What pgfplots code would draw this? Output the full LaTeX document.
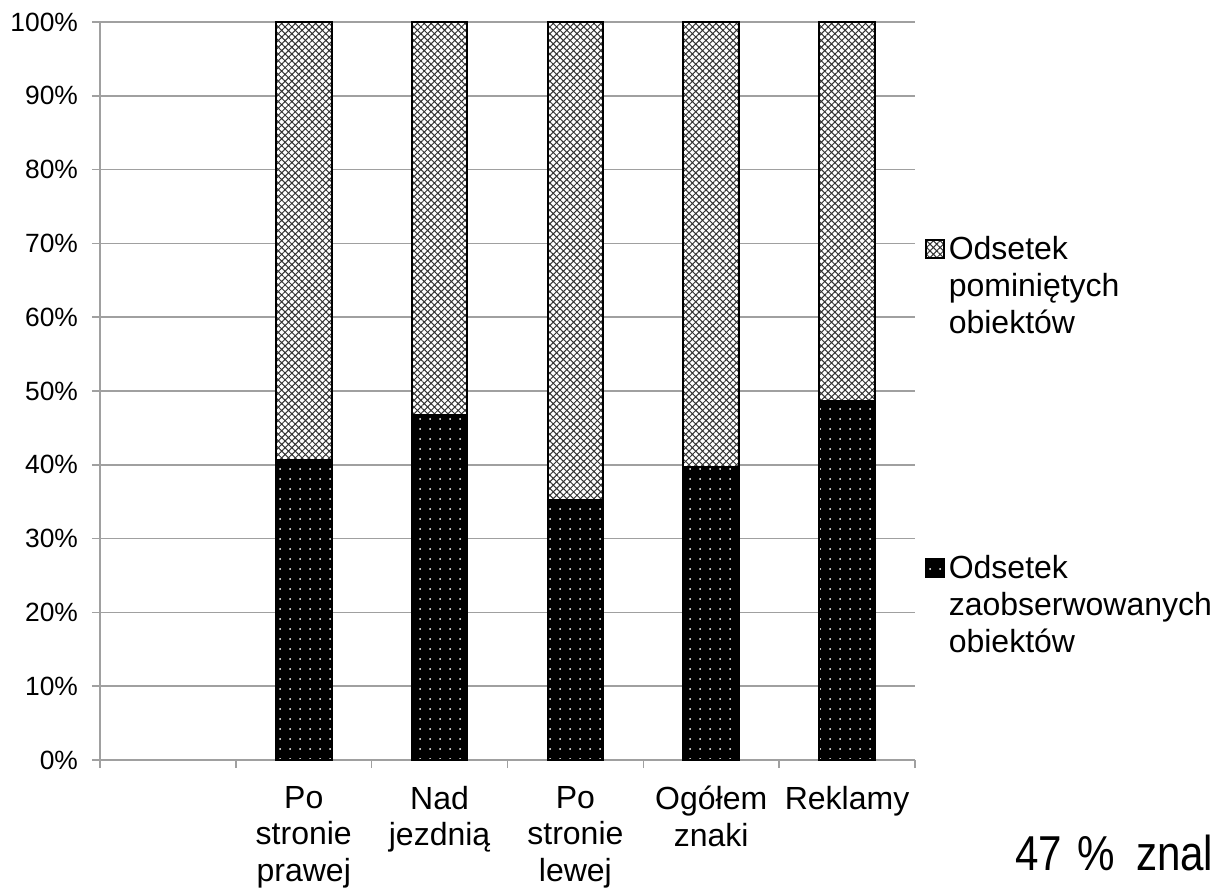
\documentclass[border=0pt]{standalone}
\usepackage{fontspec}
\setmainfont{Liberation Sans}
\usepackage{pgfplots}
\pgfplotsset{compat=1.18}
\usetikzlibrary{patterns.meta}
\definecolor{gridgray}{RGB}{160,160,160}
\pgfplotsset{sqlegend/.style={legend image code/.code={\draw[##1] (0pt,1pt) rectangle (9pt,10pt);}}}
\begin{document}
\begin{tikzpicture}
\path[use as bounding box] (-50pt,-64.5pt) rectangle (559.5pt,380pt);
\begin{axis}[
  at={(0pt,0pt)}, anchor=south west,
  scale only axis, width=407.5pt, height=369pt,
  ybar stacked, bar width=0.41,
  xmin=-0.5, xmax=5.5, ymin=0, ymax=100,
  xtick={1,2,3,4,5},
  xticklabels={{Po\\stronie\\prawej},{Nad\\jezdnią},{Po\\stronie\\lewej},{Ogółem\\znaki},{Reklamy}},
  minor xtick={-0.5,0.5,1.5,2.5,3.5,4.5,5.5},
  ytick={0,10,...,100},
  yticklabel={\pgfmathprintnumber{\tick}\%},
  /pgf/number format/assume math mode=true,
  axis x line*=bottom, axis y line*=left,
  axis line style={draw=gridgray, line width=0.75pt},
  tick align=outside,
  major tick length=4pt, minor tick length=4pt,
  major x tick style={draw=none},
  every tick/.style={draw=gridgray, line width=0.75pt},
  minor tick style={draw=gridgray, line width=0.75pt},
  ymajorgrids,
  grid style={draw=gridgray, line width=0.75pt},
  yticklabel style={font=\fontsize{13.2}{15}\selectfont, xshift=-3.5pt},
  xticklabel style={align=center, font=\fontsize{16}{18.3}\selectfont, yshift=-5.5pt},
  reverse legend,
  legend style={at={(1.012,0.715)}, anchor=north west, draw=none, fill=none,
    inner sep=0pt, outer sep=0pt, row sep=142.5pt, column sep=0pt,
    font=\fontsize{16}{18.5}\selectfont,
    cells={anchor=base west, text width=140pt, align=left, inner xsep=3pt, inner ysep=1pt}},
  clip=false,
]
\addplot[fill=black, draw=black, line width=1pt,
  postaction={pattern={Dots[distance=5pt, radius=0.5pt]}, pattern color=white},
  sqlegend]
  coordinates {(1,40.6) (2,46.7) (3,35.2) (4,39.7) (5,48.6)};
\addlegendentry{Odsetek\\zaobserwowanych\\obiektów}
\addplot[fill=white, draw=black, line width=1pt,
  postaction={pattern={Hatch[angle=45, distance=2.4pt, line width=0.5pt]}, pattern color=black!80},
  sqlegend]
  coordinates {(1,59.4) (2,53.3) (3,64.8) (4,60.3) (5,51.4)};
\addlegendentry{Odsetek\\pominiętych\\obiektów}
\end{axis}
\node[anchor=base west, inner sep=0pt, font=\fontsize{24.5}{28}\selectfont] at (457.5pt,-55pt) {\scalebox{0.86}[1]{47\hspace{2pt} \%\hspace{5.5pt} znal}};
\end{tikzpicture}
\end{document}
